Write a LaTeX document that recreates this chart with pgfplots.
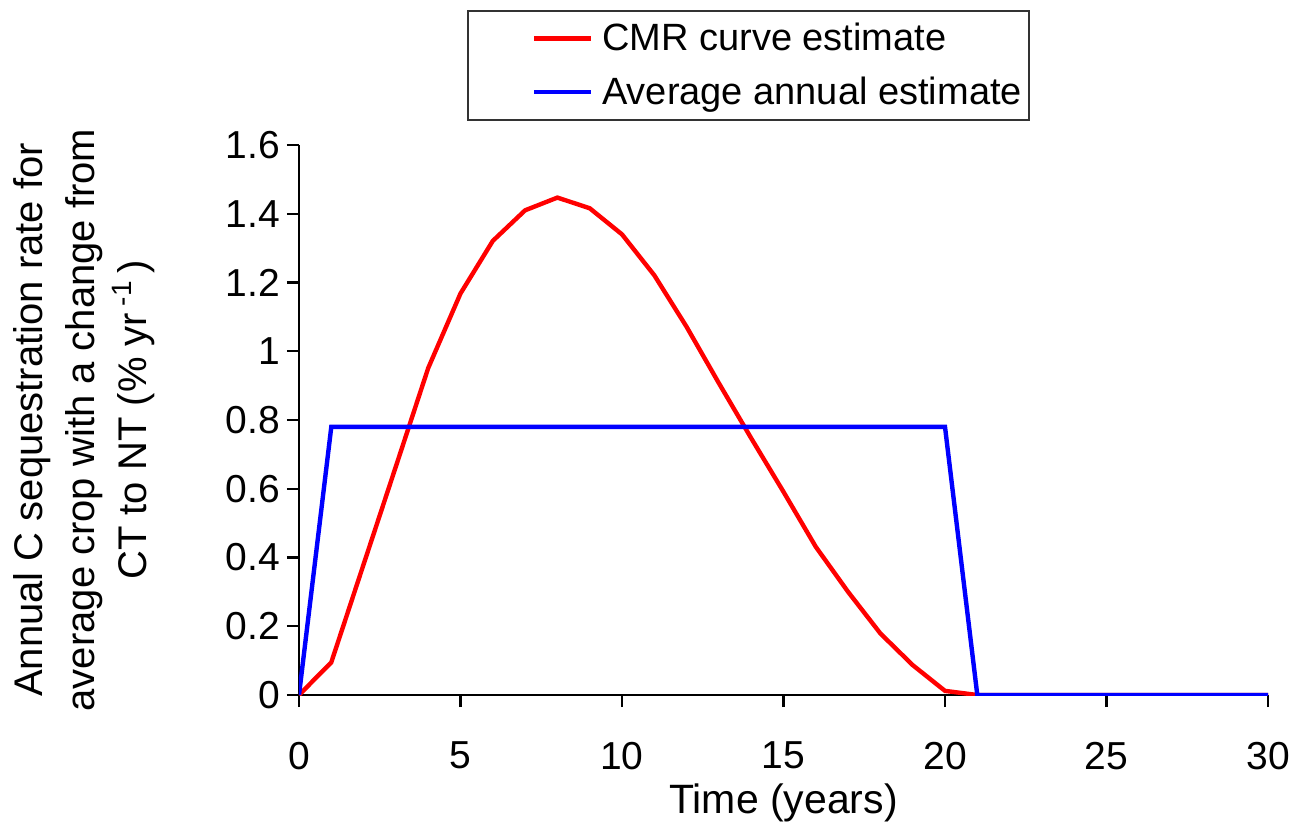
\documentclass[border=0pt]{standalone}
\usepackage{pgfplots}
\pgfplotsset{compat=1.18}
\usepackage{fontspec}
\setmainfont{Liberation Sans}

\definecolor{cmrred}{RGB}{255,0,0}
\definecolor{avgblue}{RGB}{0,0,255}

\begin{document}
\begin{tikzpicture}
\path[use as bounding box] (-149.5pt,-67.5pt) rectangle (497pt,347.5pt);
\begin{axis}[
  scale only axis,
  width=484.5pt, height=275pt,
  xmin=0, xmax=30, ymin=0, ymax=1.6,
  axis x line=bottom, axis y line=left,
  axis line style={-, line width=1.4pt, black},
  xtick={0,5,...,30},
  ytick={0,0.2,0.4,0.6,0.8,1,1.2,1.4,1.6},
  minor tick num=0,
  tick align=outside,
  major tick length=6pt,
  tick style={line width=1.2pt, black},
  font=\fontsize{19}{22}\selectfont,
  ticklabel style={font=\fontsize{19.5}{22}\selectfont},
  /pgf/number format/assume math mode=true,
  yticklabel style={/pgf/number format/fixed, /pgf/number format/precision=1},
  xticklabel style={yshift=-14pt},
  xlabel={Time (years)},
  xlabel style={at={(axis description cs:0.5,-0.196)}, anchor=center,
    font=\fontsize{20.5}{24}\selectfont},
  ylabel={Annual C sequestration rate for\\average crop with a change from\\CT to NT (\% yr\,\textsuperscript{-1}\,)},
  ylabel style={at={(axis description cs:-0.222,0.5)}, anchor=center, align=center,
    font=\fontsize{20}{26}\selectfont},
  legend style={at={(axis description cs:0.1734,1.2455)}, anchor=north west,
    draw=black!80, line width=0.8pt, inner xsep=1.5pt, inner ysep=4.25pt,
    row sep=7.5pt, font=\fontsize{19}{22}\selectfont,
    nodes={inner sep=2pt}},
  legend cell align=left,
  legend image code/.code={
    \path (-30.5pt,0pt) (31pt,0pt);
    \draw[#1, line width=2.2pt] (0pt,0pt) -- (28.5pt,0pt);
  },
]
\addplot[cmrred, line width=2.2pt] coordinates {
  (0,0) (1,0.095) (2,0.380) (3,0.665) (4,0.951) (5,1.168) (6,1.321)
  (7,1.410) (8,1.447) (9,1.416) (10,1.340) (11,1.221) (12,1.071)
  (13,0.907) (14,0.747) (15,0.591) (16,0.431) (17,0.300) (18,0.179)
  (19,0.087) (20,0.012) (21,0) (30,0)
};
\addlegendentry{CMR curve estimate}
\addplot[avgblue, line width=2.2pt] coordinates {
  (0,0) (1,0.78) (20,0.78) (21,0) (30,0)
};
\addlegendentry{Average annual estimate}
\end{axis}
\end{tikzpicture}
\end{document}
